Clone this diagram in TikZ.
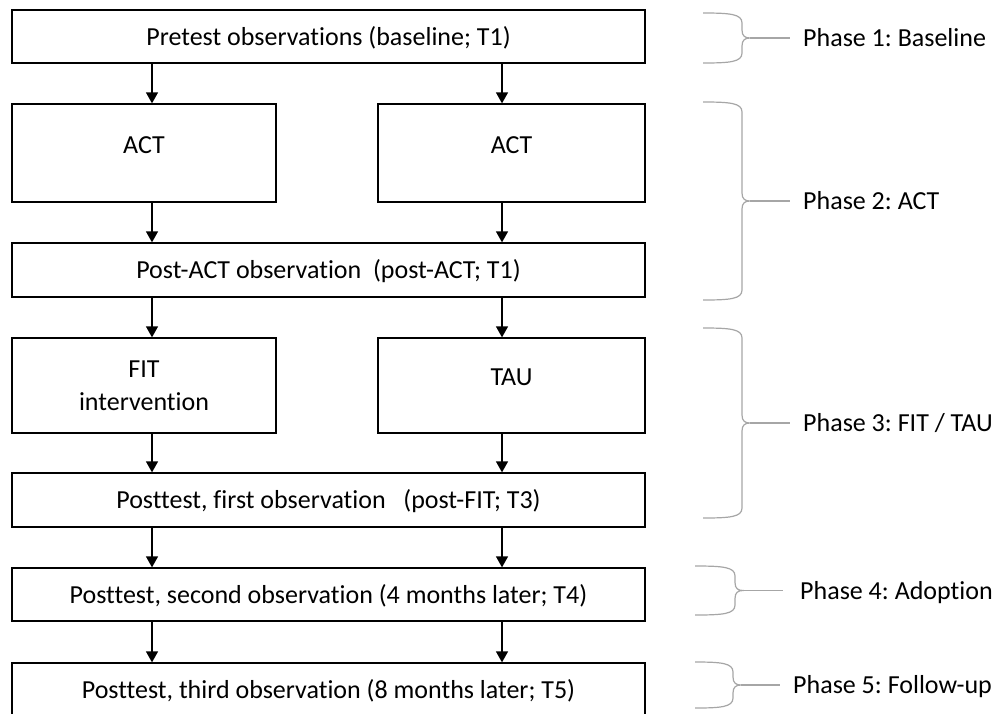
\documentclass[tikz,border=0pt]{standalone}
\usepackage{fontspec}
\setmainfont{Carlito}[Ligatures=CommonOff]
\frenchspacing
\usetikzlibrary{arrows.meta}
\definecolor{braceGray}{HTML}{A6A6A6}
\begin{document}
\begin{tikzpicture}[x=1pt,y=-1pt,
  font=\fontsize{26}{33}\selectfont,
  frame/.style={draw=black, line width=1.3pt, rectangle, inner sep=0pt},
  box/.style={frame, text height=21pt, text depth=3.6pt},
  tallbox/.style={frame, text height=10pt, text depth=10pt},
  flow/.style={line width=1.3pt, -{Triangle[width=12pt,length=11pt]}},
  brace/.style={draw=braceGray, line width=1.2pt},
  phase/.style={anchor=west, inner sep=0pt, text height=21pt, text depth=3.6pt}]
\useasboundingbox (0,0) rectangle (1003,713);
\clip (0,0) rectangle (1003,713);

% study flow
\node[box, minimum width=633pt, minimum height=53pt] (pre) at (328.5,36.5) {Pretest observations (baseline; T1)};
\node[tallbox, minimum width=264pt, minimum height=98pt] (actA) at (144,153) {ACT};
\node[tallbox, minimum width=267pt, minimum height=98pt] (actB) at (511.5,153) {ACT};
\node[box, minimum width=633pt, minimum height=54pt] (postact) at (328.5,270) {Post-ACT observation\ \ (post-ACT; T1)};
\node[frame, align=center, minimum width=264pt, minimum height=95pt] (fit) at (144,385.5) {FIT\\intervention};
\node[tallbox, minimum width=267pt, minimum height=95pt] (tau) at (511.5,385.5) {TAU};
\node[box, minimum width=633pt, minimum height=54pt] (post1) at (328.5,500) {Posttest, first observation\ \ \ (post-FIT; T3)};
\node[box, minimum width=633pt, minimum height=53pt] (post2) at (328.5,594.5) {Posttest, second observation (4 months later; T4)};
\node[box, minimum width=633pt, minimum height=54pt] (post3) at (328.5,690) {Posttest, third observation (8 months later; T5)};

% arrow columns
\coordinate (colL) at (152,0);
\coordinate (colR) at (502,0);
\foreach \a/\b in {pre/actA, actA/postact, postact/fit, fit/post1, post1/post2, post2/post3}
  \draw[flow] (\a.south -| colL) -- (\b.north -| colL);
\foreach \a/\b in {pre/actB, actB/postact, postact/tau, tau/post1, post1/post2, post2/post3}
  \draw[flow] (\a.south -| colR) -- (\b.north -| colR);

% phase labels
\node[phase] (ph1) at (803,38) {Phase 1: Baseline};
\node[phase] (ph2) at (803,201) {Phase 2: ACT};
\node[phase] (ph3) at (803,423) {Phase 3: FIT / TAU};
\node[phase] (ph4) at (800,590.5) {Phase 4: Adoption};
\node[phase] (ph5) at (793,685) {Phase 5: Follow-up};

% curly braces grouping the phases
\foreach \n/\L/\V/\T/\B/\g in {1/703/742/13/63/13, 2/703/742/102/300/13, 3/703/742/328/518/13, 4/695/735/566/615/17, 5/695/733/662/708/13}{
  \pgfmathsetmacro\M{(\T+\B)/2}
  \draw[brace] (\L,\T) .. controls (\V-12,\T) and (\V,\T+1) .. (\V,\T+10)
    -- (\V,\M-8) .. controls (\V,\M-2) and (\V+3,\M) .. (\V+8,\M)
    .. controls (\V+3,\M) and (\V,\M+2) .. (\V,\M+8)
    -- (\V,\B-10) .. controls (\V,\B-1) and (\V-12,\B) .. (\L,\B);
  \coordinate (tip\n) at (\V+8,\M);
  \draw[brace, shorten >=\g pt] (tip\n) -- (ph\n.west);
}
\end{tikzpicture}
\end{document}
